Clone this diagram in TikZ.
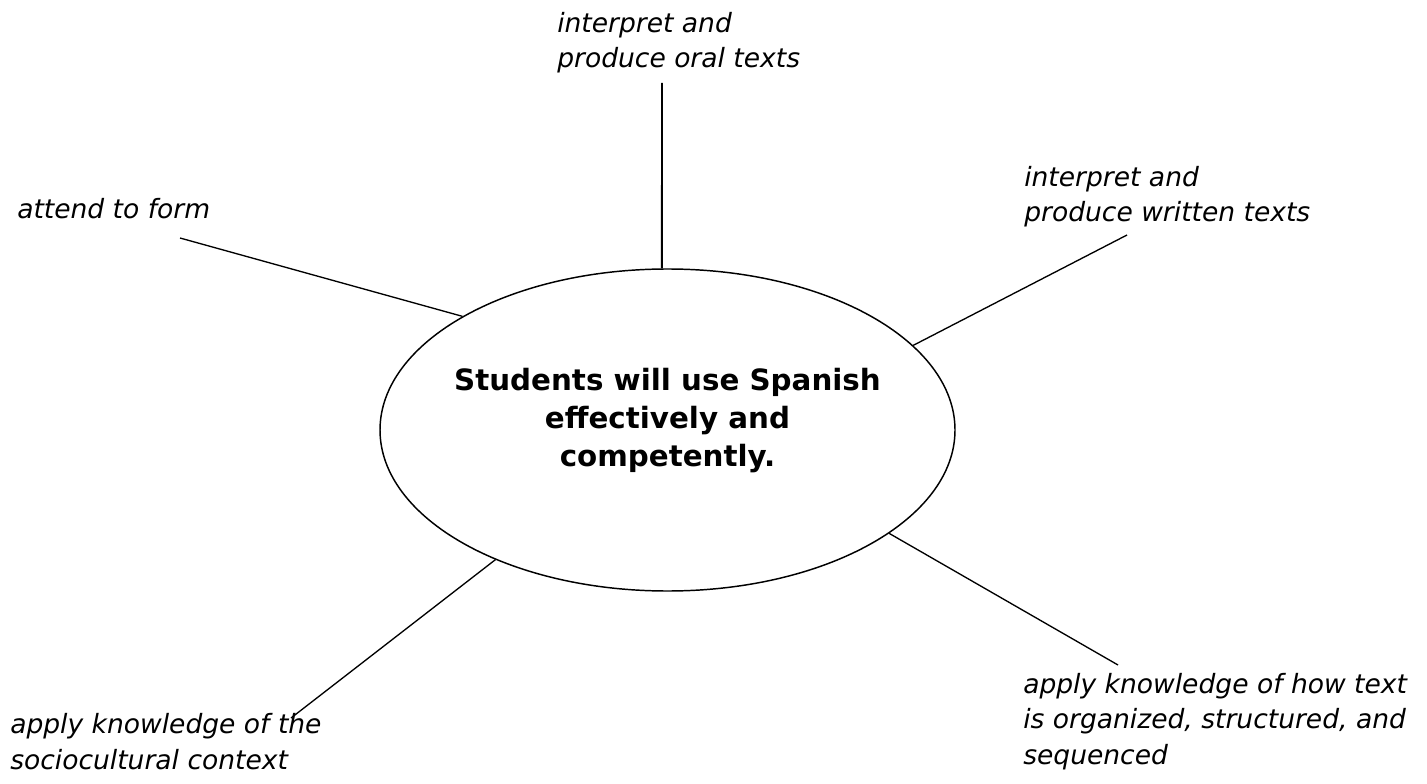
\documentclass[tikz,border=0pt]{standalone}
\usepackage{fontspec}
\setmainfont{DejaVu Sans}
\usetikzlibrary{shapes.geometric}
\tikzset{
  outcome/.style={anchor=base west, inner sep=0pt, align=left,
    font=\fontsize{19.9}{26.3}\selectfont\itshape},
  spoke/.style={line width=1pt},
  goalring/.style={draw, ellipse, line width=1.1pt, inner sep=0pt,
    minimum width=431.25pt, minimum height=241.5pt},
  goaltext/.style={align=center, inner sep=0pt,
    font=\fontsize{22}{28.5}\selectfont\bfseries}
}
\begin{document}
\begin{tikzpicture}[x=0.75pt,y=-0.75pt]
  \useasboundingbox (0,0) rectangle (1427,784);
  \node [goalring] (goal) at (667.5,430) {};
  \node [goaltext] (aim) at (667.5,421) {Students will use Spanish\\effectively and\\competently.};

  % labels sit on the baseline of their last line
  \node [outcome] (oral) at (557,68) {interpret and\\produce oral texts};
  \node [outcome] (form) at (17,219) {attend to form};
  \node [outcome] (written) at (1024,222) {interpret and\\produce written texts};
  \node [outcome] (structure) at (1023,764) {apply knowledge of how text\\is organized, structured, and\\sequenced};
  \node [outcome] (culture) at (10,769) {apply knowledge of the\\sociocultural context};

  % free ends of the spokes, just under the labels
  \coordinate (oralend) at (662,83);
  \coordinate (formend) at (180,238);
  \coordinate (writtenend) at (1127,235);
  \coordinate (structureend) at (1118,665);
  \coordinate (cultureend) at (291,718);

  \draw [spoke, line width=1.4pt] (oralend) -- (goal.92);
  \draw [spoke] (formend) -- (goal.151.4);
  \draw [spoke] (writtenend) -- (goal.19.4);
  \draw [spoke] (structureend) -- (goal.-25.1);
  \draw [spoke] (cultureend) -- (goal.217.5);
\end{tikzpicture}
\end{document}
